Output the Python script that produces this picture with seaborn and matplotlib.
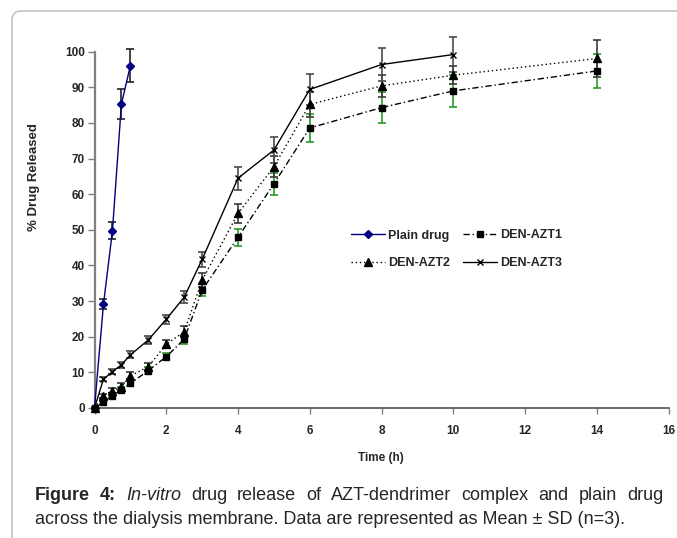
import matplotlib
matplotlib.use("Agg")
import matplotlib.pyplot as plt
import seaborn as sns
from matplotlib.patches import FancyBboxPatch

# ======================================
# Data
# ======================================

time_plain = [0, 0.25, 0.5, 0.75, 1]
plain_mean = [0, 29.1, 49.7, 85.3, 96.1]
plain_sd = [0.3, 1.4, 2.4, 4.2, 4.7]

time_den = [0, 0.25, 0.5, 0.75, 1, 1.5, 2, 2.5, 3, 4, 5, 6, 8, 10, 14]
azt1_mean = [0, 1.6, 3.5, 5.1, 6.9, 10.5, 14.4, 19.3, 33.1, 47.9, 62.9, 78.6, 84.3, 89.0, 94.6]
azt1_sd = [0.3, 0.5, 0.7, 0.8, 0.8, 1.0, 1.0, 1.2, 1.8, 2.4, 3.1, 3.9, 4.4, 4.6, 4.8]
azt2_mean = [0, 3.4, 4.9, 6.0, 9.0, 11.6, 17.9, 21.4, 35.9, 54.6, 67.7, 85.2, 90.4, 93.4, 98.1]
azt2_sd = [0.3, 0.6, 0.8, 0.9, 1.0, 1.0, 1.1, 1.5, 2.0, 2.7, 3.0, 3.5, 3.0, 2.5, 5.1]

time_azt3 = [0, 0.25, 0.5, 0.75, 1, 1.5, 2, 2.5, 3, 4, 5, 6, 8, 10]
azt3_mean = [0, 8.1, 10.2, 12.1, 14.9, 19.1, 24.9, 31.1, 41.7, 64.5, 72.4, 89.4, 96.4, 99.2]
azt3_sd = [0.3, 0.6, 0.7, 0.8, 1.0, 1.1, 1.2, 1.6, 2.2, 3.2, 3.6, 4.3, 4.7, 5.0]

x_ticks = [0, 2, 4, 6, 8, 10, 12, 14, 16]
y_ticks = [0, 10, 20, 30, 40, 50, 60, 70, 80, 90, 100]

# ======================================
# Style
# ======================================

sns.set_style("white")
plt.rcParams["font.family"] = ["Liberation Sans", "DejaVu Sans"]

fig = plt.figure(figsize=(6.77, 5.38), dpi=100)
ax = fig.add_axes([94.5 / 677, 1 - 408 / 538, 574 / 677, 356.3 / 538])

# rounded frame around the figure (cropped at right and bottom)
frame = FancyBboxPatch(
    (12, -40), 760, 567,
    boxstyle="round,pad=0,rounding_size=9",
    transform=None, facecolor="none", edgecolor="#b8b8b8", linewidth=1.0,
    clip_on=False,
)
fig.patches.append(frame)

# ======================================
# Series
# ======================================

series = [
    ("Plain drug", time_plain, plain_mean, plain_sd, "#000080", "D", 3.8, "-", "#222222"),
    ("DEN-AZT1", time_den, azt1_mean, azt1_sd, "black", "s", 4.6, (0, (4.5, 2, 1, 2)), "#2a9a2a"),
    ("DEN-AZT2", time_den, azt2_mean, azt2_sd, "black", "^", 5.2, (0, (1, 2)), "#3a3a3a"),
    ("DEN-AZT3", time_azt3, azt3_mean, azt3_sd, "black", "x", 5.0, "-", "#4a4a4a"),
]

for name, t, m, sd, color, marker, ms, ls, ecolor in series:
    ax.errorbar(
        t, m, yerr=sd, fmt="none", ecolor=ecolor,
        elinewidth=1.2, capsize=2.6, capthick=1.2, clip_on=False, zorder=2
    )
    sns.lineplot(
        x=t, y=m, ax=ax, color=color, marker=marker, markersize=ms,
        markerfacecolor=color, markeredgecolor=color, markeredgewidth=1.0,
        linestyle=ls, linewidth=1.0, label=name, errorbar=None,
        clip_on=False, zorder=3
    )

# ======================================
# Axes
# ======================================

ax.set_xlim(0, 16)
ax.set_ylim(0, 100)
ax.set_xticks(x_ticks)
ax.set_yticks(y_ticks)
ax.set_xlabel("")
ax.set_ylabel("")

for side in ["top", "right"]:
    ax.spines[side].set_visible(False)
ax.spines["left"].set_color("#808080")
ax.spines["left"].set_linewidth(1.6)
ax.spines["bottom"].set_color("#505050")
ax.spines["bottom"].set_linewidth(1.2)

ax.tick_params(axis="y", direction="out", length=5, width=1, color="#808080",
               pad=2, labelsize=8.5, left=True)
ax.tick_params(axis="x", direction="out", length=4, width=1, color="#808080",
               pad=8, labelsize=8.5, bottom=True)
plt.setp(ax.get_xticklabels(), fontweight="bold")
plt.setp(ax.get_yticklabels(), fontweight="bold")

fig.text(34.5 / 677, 1 - 177 / 538, "% Drug Released", rotation=90,
         ha="center", va="center", fontsize=9.5, fontweight="bold")
fig.text(381 / 677, 1 - 458 / 538, "Time (h)", ha="center", va="center",
         fontsize=8.5, fontweight="bold")

# legend filled row by row: Plain drug, DEN-AZT1 / DEN-AZT2, DEN-AZT3
handles, labels = ax.get_legend_handles_labels()
order = [0, 2, 1, 3]
leg = ax.legend(
    [handles[i] for i in order], [labels[i] for i in order],
    ncol=2, frameon=False, loc="upper left",
    bbox_to_anchor=(351 / 677, 1 - 229.5 / 538), bbox_transform=fig.transFigure,
    borderaxespad=0, borderpad=0, handlelength=2.7, handletextpad=0.3,
    columnspacing=1.0, labelspacing=1.25,
    prop={"weight": "bold", "size": 9},
)

# ======================================
# Caption (first line justified)
# ======================================

cap_size = 13
left_px, right_px = 35, 663
line1 = [
    ("Figure", "bold", "normal"),
    ("4:", "bold", "normal"),
    ("In-vitro", "normal", "italic"),
    ("drug", "normal", "normal"),
    ("release", "normal", "normal"),
    ("of", "normal", "normal"),
    ("AZT-dendrimer", "normal", "normal"),
    ("complex", "normal", "normal"),
    ("and", "normal", "normal"),
    ("plain", "normal", "normal"),
    ("drug", "normal", "normal"),
]
line2 = "across the dialysis membrane. Data are represented as Mean \u00b1 SD (n=3)."

fig.canvas.draw()
renderer = fig.canvas.get_renderer()

words = []
for w, weight, style in line1:
    txt = fig.text(0, 1 - 500 / 538, w, fontsize=cap_size, fontweight=weight,
                   fontstyle=style, va="baseline", ha="left")
    words.append(txt)
widths = [txt.get_window_extent(renderer).width for txt in words]
gap = (right_px - left_px - sum(widths)) / (len(words) - 1)
x = left_px
for txt, w in zip(words, widths):
    txt.set_x(x / 677)
    x += w + gap

fig.text(left_px / 677, 1 - 523.5 / 538, line2, fontsize=cap_size,
         va="baseline", ha="left")

fig.savefig("out.png", dpi=100)
